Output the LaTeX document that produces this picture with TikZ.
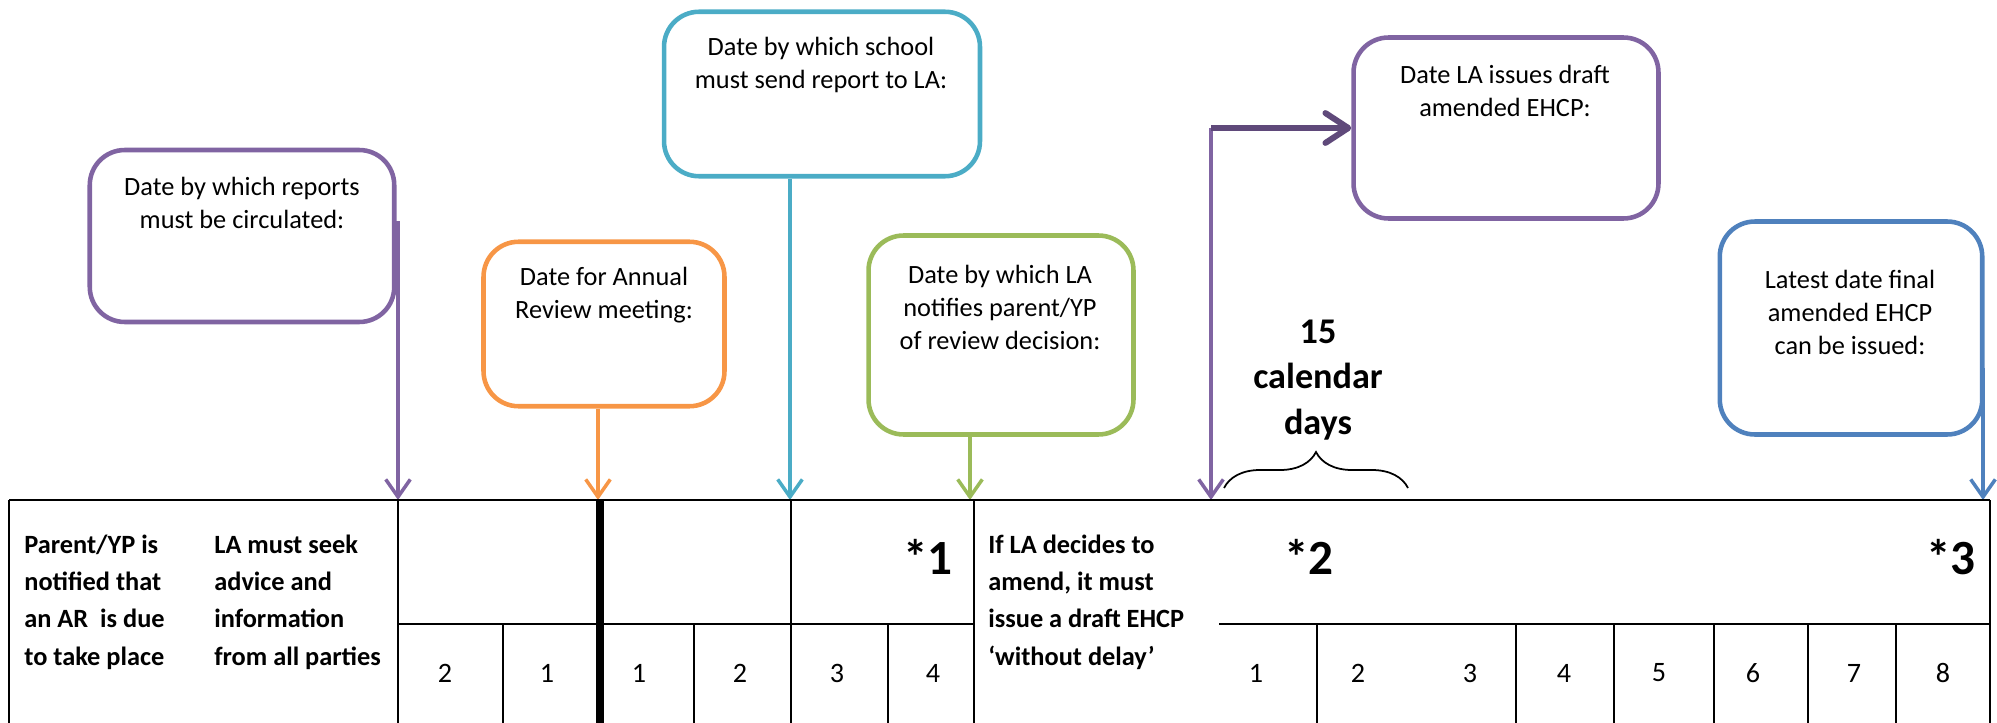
\documentclass[tikz,border=0pt]{standalone}
\usepackage{fontspec}
\setmainfont{Carlito}
\usetikzlibrary{arrows.meta,decorations.pathreplacing,positioning}
\definecolor{arpurple}{HTML}{8064A2}
\definecolor{ardarkpurple}{HTML}{5F497A}
\definecolor{arorange}{HTML}{F79646}
\definecolor{araqua}{HTML}{4BACC6}
\definecolor{argreen}{HTML}{9BBB59}
\definecolor{arblue}{HTML}{4F81BD}

\begin{document}
\begin{tikzpicture}[x=0.02cm,y=-0.02cm,
	datebox/.style={draw=#1,line width=2.6pt,rounded corners=0.7cm,inner sep=0pt},
	boxtext/.style={align=center,inner sep=0pt,font=\fontsize{15}{18.8}\selectfont},
	pointer/.style={draw=#1,line width=2pt,arrows={-Straight Barb[length=10pt,width=14pt]}},
	tableline/.style={line width=1.3pt},
	rowtext/.style={align=left,anchor=west,inner sep=0pt,font=\bfseries\fontsize{15}{21.3}\selectfont},
	starno/.style={anchor=base,inner sep=0pt,font=\bfseries\fontsize{28}{32}\selectfont},
	weekno/.style={inner sep=0pt,font=\fontsize{16}{19}\selectfont}]
	\useasboundingbox (0,0) rectangle (1997,723);

	\node[datebox=arpurple,minimum width=6.09cm,minimum height=3.44cm] (circ) at (242,236) {};
	\node[boxtext] (circtext) at (242,203) {Date by which reports\\must be circulated:};
	\node[datebox=arorange,minimum width=4.82cm,minimum height=3.29cm] (meet) at (604,324) {};
	\node[boxtext] (meettext) at (604,295) {Date for Annual\\Review meeting:};
	\node[datebox=araqua,minimum width=6.32cm,minimum height=3.29cm] (school) at (822,94) {};
	\node[boxtext] (schooltext) at (821,65) {Date by which school\\must send report to LA:};
	\node[datebox=argreen,minimum width=5.3cm,minimum height=3.98cm] (notify) at (1001,335) {};
	\node[boxtext] (notifytext) at (1000,307) {Date by which LA\\notifies parent/YP\\of review decision:};
	\node[datebox=arpurple,minimum width=6.1cm,minimum height=3.62cm] (draft) at (1506,128) {};
	\node[boxtext] (drafttext) at (1505,91) {Date LA issues draft\\amended EHCP:};
	\node[datebox=arblue,minimum width=5.25cm,minimum height=4.26cm] (final) at (1851,328) {};
	\node[boxtext] (finaltext) at (1850,312) {Latest date final\\amended EHCP\\can be issued:};

	\coordinate (a1) at (398,500);
	\coordinate (a2) at (598,500);
	\coordinate (a3) at (790,500);
	\coordinate (a4) at (970,500);
	\coordinate (a5) at (1211,500);
	\coordinate (a6) at (1983,500);
	\coordinate (c1) at ([yshift=0.3cm]circ.east);
	\coordinate (c6) at ([yshift=-0.8cm]final.east);
	\draw[pointer=arpurple] (a1 |- c1) -- (a1);
	\draw[pointer=arorange] (a2 |- meet.south) -- (a2);
	\draw[pointer=araqua] (a3 |- school.south) -- (a3);
	\draw[pointer=argreen] (a4 |- notify.south) -- (a4);
	\draw[pointer=arpurple] (a5 |- draft.west) -- (a5);
	\draw[pointer=arblue] (a6 |- c6) -- (a6);
	\draw[draw=ardarkpurple,line width=3.4pt,arrows={-Straight Barb[length=13pt,width=17pt,round]}]
		(a5 |- draft.west) -- (draft.west);

	\draw[tableline] (9,500) -- (1990,500);
	\foreach \x in {9,398,791,974,1990}
		\draw[tableline] (\x,500) -- (\x,723);
	\draw[line width=4.7pt] (600,500) -- (600,723);
	\draw[tableline] (398,624) -- (974,624);
	\draw[tableline] (1219,624) -- (1990,624);
	\foreach \x in {503,694,888,1317,1516,1614,1714,1808,1896}
		\draw[tableline] (\x,624) -- (\x,723);

	\node[rowtext] (notified) at (24,602) {Parent/YP is\\notified that\\an AR\ \ is due\\to take place};
	\node[rowtext] (seek) at (214,602) {LA must seek\\advice and\\information\\from all parties};
	\node[rowtext] (amend) at (988,602) {If LA decides to\\amend, it must\\issue a draft EHCP\\‘without delay’};

	\node[starno] (s1) at (928,574) {*1};
	\node[starno] (s2) at (1309,574) {*2};
	\node[starno] (s3) at (1951,574) {*3};

	\foreach \x/\n in {445/2,547/1,639/1,740/2,837/3,933/4,1256/1,1358/2,1470/3,1564/4,1659/5,1753/6,1854/7,1943/8}
		\node[weekno] (w\x) at (\x,673) {\n};

	\coordinate (b1) at (1224,488);
	\coordinate (b2) at (1408,488);
	\draw[line width=1pt,decorate,decoration={brace,amplitude=0.72cm}] (b1) -- (b2);
	\node[align=center,inner sep=0pt,font=\bfseries\fontsize{20.6}{26}\selectfont] (span) at (1318,380) {15\\calendar\\days};
\end{tikzpicture}
\end{document}
